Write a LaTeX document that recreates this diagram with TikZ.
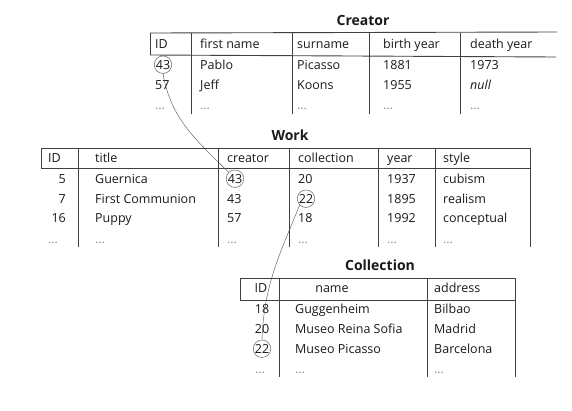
\documentclass[tikz,border=0pt]{standalone}
\usepackage{fontspec}
\setmainfont{Open Sans}
\usetikzlibrary{positioning}
\tikzset{cell/.style={rectangle,draw=none,fill=none,inner sep=0pt,anchor=west,text=black!90,text height=9.5pt,text depth=3pt,font=\fontsize{12.5}{15}\selectfont},
         numcell/.style={cell,anchor=east},
         midcell/.style={cell,anchor=center},
         dots/.style={cell,text=black!45},
         tabtitle/.style={cell,anchor=center,text height=10pt,font=\fontsize{14}{17}\selectfont\bfseries},
         ring/.style={circle,draw=black!70,thin,fill=none,inner sep=0pt,minimum size=17.5pt,yshift=1.3pt},
         rule/.style={black!75,line width=0.9pt},
         link/.style={black!70,thin},
}
\begin{document}
\begin{tikzpicture}[x=1pt,y=-1pt]

\useasboundingbox (0,0) rectangle (572,410);

% Creator
\node[tabtitle] (c_t) at (363,22) {Creator};
\draw[rule] (150,33) -- (557,32);
\draw[rule] (150,55) -- (556,57);
\draw[rule] (150,33) -- (150,55);
\draw[rule] (191,33) -- (191,114);
\draw[rule] (292,33) -- (292,114);
\draw[rule] (369,33) -- (369,114);
\draw[rule] (460,33) -- (460,114);

\node[cell] (c_h1) at (155,45) {ID};
\node[cell] (c_h2) at (200,45) {first name};
\node[cell] (c_h3) at (297,45) {surname};
\node[cell] (c_h4) at (383,45) {birth year};
\node[cell] (c_h5) at (470,45) {death year};

\node[midcell] (c_11) at (163,66) {43};
\node[cell] (c_12) at (200,66) {Pablo};
\node[cell] (c_13) at (297,66) {Picasso};
\node[cell] (c_14) at (383,66) {1881};
\node[cell] (c_15) at (470,66) {1973};

\node[cell] (c_21) at (155,86) {57};
\node[cell] (c_22) at (200,86) {Jeff};
\node[cell] (c_23) at (297,86) {Koons};
\node[cell] (c_24) at (383,86) {1955};
\node[cell] (c_25) at (470,86) {\textit{null}};

\node[dots] (c_31) at (155,106) {\dots};
\node[dots] (c_32) at (200,106) {\dots};
\node[dots] (c_33) at (297,106) {\dots};
\node[dots] (c_34) at (383,106) {\dots};
\node[dots] (c_35) at (470,106) {\dots};

% Work
\node[tabtitle] (w_t) at (290,137) {Work};
\draw[rule] (41,148) -- (530,148);
\draw[rule] (41,168) -- (530,168);
\draw[rule] (41,148) -- (41,168);
\draw[rule] (78,148) -- (78,247);
\draw[rule] (218,148) -- (218,247);
\draw[rule] (289,148) -- (289,247);
\draw[rule] (378,148) -- (378,247);
\draw[rule] (435,148) -- (435,247);
\draw[rule] (530,148) -- (530,247);

\node[cell] (w_h1) at (48,159) {ID};
\node[cell] (w_h2) at (95,159) {title};
\node[cell] (w_h3) at (227,159) {creator};
\node[cell] (w_h4) at (298,159) {collection};
\node[cell] (w_h5) at (387,159) {year};
\node[cell] (w_h6) at (443,159) {style};

\node[numcell] (w_11) at (66,180) {5};
\node[cell] (w_12) at (95,180) {Guernica};
\node[midcell] (w_13) at (235,180) {43};
\node[cell] (w_14) at (298,180) {20};
\node[cell] (w_15) at (387,180) {1937};
\node[cell] (w_16) at (443,180) {cubism};

\node[numcell] (w_21) at (66,200) {7};
\node[cell] (w_22) at (95,200) {First Communion};
\node[cell] (w_23) at (227,200) {43};
\node[midcell] (w_24) at (306,200) {22};
\node[cell] (w_25) at (387,200) {1895};
\node[cell] (w_26) at (443,200) {realism};

\node[numcell] (w_31) at (66,219) {16};
\node[cell] (w_32) at (95,219) {Puppy};
\node[cell] (w_33) at (227,219) {57};
\node[cell] (w_34) at (298,219) {18};
\node[cell] (w_35) at (387,219) {1992};
\node[cell] (w_36) at (443,219) {conceptual};

\node[dots] (w_41) at (48,240) {\dots};
\node[dots] (w_42) at (95,240) {\dots};
\node[dots] (w_43) at (227,240) {\dots};
\node[dots] (w_44) at (298,240) {\dots};
\node[dots] (w_45) at (387,240) {\dots};
\node[dots] (w_46) at (443,240) {\dots};

% Collection
\node[tabtitle] (l_t) at (380,267) {Collection};
\draw[rule] (240,278) -- (515,278);
\draw[rule] (240,300) -- (515,300);
\draw[rule] (240,278) -- (240,300);
\draw[rule] (279,278) -- (279,377);
\draw[rule] (427,278) -- (427,377);
\draw[rule] (515,278) -- (515,377);

\node[midcell] (l_h1) at (261,289) {ID};
\node[midcell] (l_h2) at (332,289) {name};
\node[cell] (l_h3) at (434,289) {address};

\node[midcell] (l_11) at (262,310) {18};
\node[cell] (l_12) at (295,310) {Guggenheim};
\node[cell] (l_13) at (434,310) {Bilbao};

\node[midcell] (l_21) at (262,330) {20};
\node[cell] (l_22) at (295,330) {Museo Reina Sofia};
\node[cell] (l_23) at (434,330) {Madrid};

\node[midcell] (l_31) at (262,350) {22};
\node[cell] (l_32) at (295,350) {Museo Picasso};
\node[cell] (l_33) at (434,350) {Barcelona};

\node[dots] (l_41) at (255,370) {\dots};
\node[dots] (l_42) at (295,370) {\dots};
\node[dots] (l_43) at (434,370) {\dots};

% rings round the keys
\node[ring] (c_11r) at (c_11) {};
\node[ring] (w_13r) at (w_13) {};
\node[ring] (w_24r) at (w_24) {};
\node[ring] (l_31r) at (l_31) {};

% foreign keys
\draw[link] (c_11r.south) to [out=-80,in=135] (w_13r.north west);
\draw[link] (w_24r.south west) to [out=-112,in=88] (l_31r.north);

\end{tikzpicture}
\end{document}
